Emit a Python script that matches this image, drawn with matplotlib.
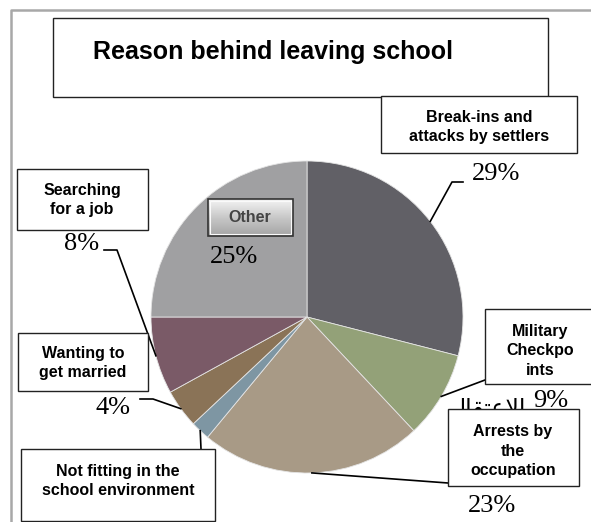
import numpy as np
import matplotlib.pyplot as plt
from matplotlib.patches import Rectangle
from matplotlib.colors import LinearSegmentedColormap

# reasons for leaving school, clockwise from the top
reasons = [
    "Break-ins and\nattacks by settlers",
    "Military\nCheckpo\nints",
    "Arrests by\nthe\noccupation",
    "Not fitting in the\nschool environment",
    "Wanting to\nget married",
    "Searching\nfor a job",
    "Other",
]
shares = [29, 9, 23, 2, 4, 8, 25]
show_pct = [True, True, True, False, True, True, True]
colors = ["#616066", "#93a178", "#a89a86", "#7e96a3", "#8a7357", "#7a5a67", "#a0a0a2"]

SANS = "Liberation Sans"
SERIF = "Liberation Serif"

fig = plt.figure(figsize=(5.91, 5.22), dpi=100)
ax = fig.add_axes([0, 0, 1, 1])

wedges, _ = ax.pie(shares, colors=colors, center=(307, 317), radius=156,
                   startangle=270, counterclock=True,
                   wedgeprops=dict(edgecolor="#e4e4e4", linewidth=0.6))

ax.set_xlim(0, 591)
ax.set_ylim(522, 0)
ax.set_aspect("equal")
ax.axis("off")

# outer chart frame
ax.plot([11, 11, 600], [530, 10, 10], color="#a8a8a8", lw=1.8, zorder=1)

# title box
ax.add_patch(Rectangle((53, 18), 495, 79, fc="white", ec="#222222", lw=1.0, zorder=5))
ax.text(273, 52, "Reason behind leaving school", ha="center", va="center",
        fontsize=18, fontweight="bold", family=SANS, zorder=6)

# label layout: box (x0, y0, x1, y1), text centre, percent position, leader elbows
layout = [
    dict(box=(381, 96, 577, 153), txt=(479, 127), pct=(472, 180), path=[(452, 182), (463, 182)]),
    dict(box=(485, 309, 596, 384), txt=(540, 351), pct=(533, 407), path=[(485, 380)]),
    dict(box=(448, 409, 579, 486), txt=(513, 451), pct=(468, 512), path=[(448, 483)]),
    dict(box=(21, 449, 215, 521), txt=(118, 481), pct=None, path=[(201, 449)]),
    dict(box=(18, 333, 148, 391), txt=(83, 363), pct=(96, 414), path=[(153, 399), (140, 399)]),
    dict(box=(17, 169, 148, 230), txt=(82, 200), pct=(64, 250), path=[(117, 250), (104, 250)]),
    dict(box=None, txt=(250, 218), pct=(210, 263), path=None),
]

button = LinearSegmentedColormap.from_list("button", ["#f4f4f4", "#c8c8c8", "#a4a4a4"])

for w, name, val, shown, lay in zip(wedges, reasons, shares, show_pct, layout):
    if lay["path"]:
        mid = np.deg2rad((w.theta1 + w.theta2) / 2)
        ax0 = w.center[0] + w.r * np.cos(mid)
        ay0 = w.center[1] + w.r * np.sin(mid)
        xs = [ax0] + [p[0] for p in lay["path"]]
        ys = [ay0] + [p[1] for p in lay["path"]]
        ax.plot(xs, ys, color="black", lw=1.2, zorder=3)
    if lay["box"]:
        x0, y0, x1, y1 = lay["box"]
        ax.add_patch(Rectangle((x0, y0), x1 - x0, y1 - y0, fc="white",
                               ec="#222222", lw=1.0, zorder=5))
        ax.text(*lay["txt"], name, ha="center", va="center", fontsize=11.5,
                fontweight="bold", family=SANS, linespacing=1.4, zorder=6)
    else:
        # shaded button-style label inside the slice
        grad = np.linspace(0, 1, 64).reshape(-1, 1)
        ax.imshow(grad, cmap=button, aspect="auto", extent=(208, 293, 236, 199), zorder=5)
        ax.add_patch(Rectangle((208, 199), 85, 37, fc="none", ec="#333333", lw=1.2, zorder=6))
        ax.add_patch(Rectangle((210, 201), 81, 33, fc="none", ec="#fafafa", lw=0.8, zorder=6))
        ax.text(*lay["txt"], name, ha="center", va="center", fontsize=11.5,
                fontweight="bold", family=SANS, color="#444444", zorder=7)
    if shown and lay["pct"]:
        ax.text(*lay["pct"], f"{val}%", ha="left", va="baseline", fontsize=19,
                family=SERIF, zorder=6)

# stray arabic caption mostly hidden behind the arrests box
ax.text(526, 416, "\ufedd\ufe8e\ufed8\ufe98\ufecb\ufefb\ufe8d", ha="right", va="baseline",
        fontsize=17, family=["DejaVu Sans"], zorder=4)

fig.savefig("out.png", dpi=100)
